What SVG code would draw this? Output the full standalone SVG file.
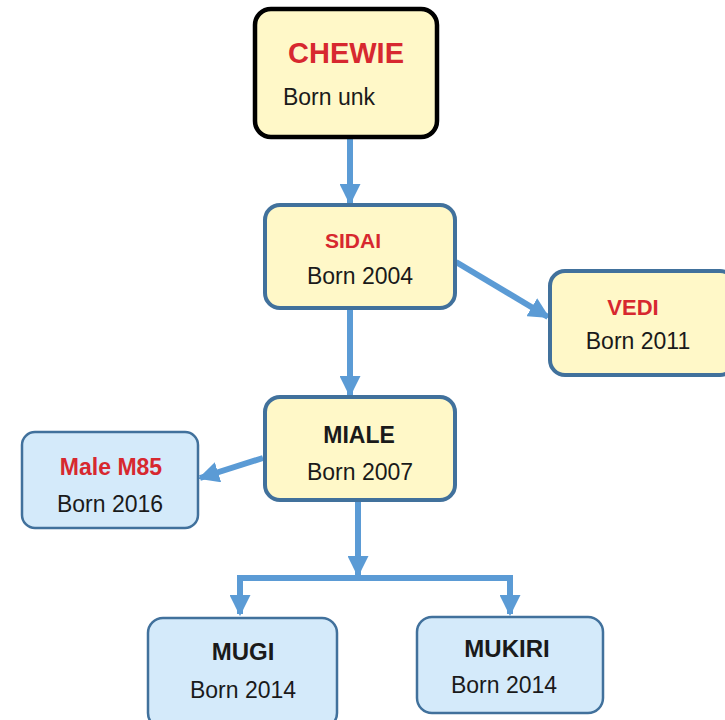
<svg xmlns="http://www.w3.org/2000/svg" width="725" height="720" viewBox="0 0 725 720">
  <style>
    .yel { fill: #fff8c8; stroke: #41719c; stroke-width: 4; }
    .blu { fill: #d4eafa; stroke: #41719c; stroke-width: 2.5; }
    .root { fill: #fff8c8; stroke: #000; stroke-width: 4.5; }
    .name { font-family: "Liberation Sans", Arial, sans-serif; font-weight: bold; text-anchor: middle; }
    .red { fill: #d7282f; }
    .blk { fill: #1a1a1a; }
    .born { font-family: "Liberation Sans", Arial, sans-serif; font-size: 23px; fill: #1a1a1a; text-anchor: middle; }
    .link { stroke: #5b9bd5; stroke-width: 6; fill: none; }
  </style>
  <defs>
    <marker id="head" viewBox="0 0 10 10" refX="9" refY="5" markerWidth="3.5" markerHeight="3.5" orient="auto" markerUnits="strokeWidth">
      <path d="M0,0 L10,5 L0,10 Z" fill="#5b9bd5"/>
    </marker>
  </defs>
  <rect width="725" height="720" fill="#ffffff"/>

  <g id="connectors">
    <line class="link" x1="350" y1="139" x2="350" y2="203" marker-end="url(#head)"/>
    <line class="link" x1="456" y1="262" x2="548" y2="317" marker-end="url(#head)"/>
    <line class="link" x1="350" y1="310" x2="350" y2="395" marker-end="url(#head)"/>
    <line class="link" x1="263" y1="458" x2="200" y2="478" marker-end="url(#head)"/>
    <line class="link" x1="358" y1="502" x2="358" y2="575" marker-end="url(#head)"/>
    <polyline class="link" points="240,581 240,578 510,578 510,581"/>
    <line class="link" x1="240" y1="578" x2="240" y2="614" marker-end="url(#head)"/>
    <line class="link" x1="510" y1="578" x2="510" y2="614" marker-end="url(#head)"/>
  </g>

  <g id="chewie">
    <rect class="root" x="255" y="9" width="182" height="128" rx="16"/>
    <text class="name red" x="346" y="63" font-size="29">CHEWIE</text>
    <text class="born" x="329" y="105" font-size="22">Born unk</text>
  </g>

  <g id="sidai">
    <rect class="yel" x="265" y="205" width="190" height="103" rx="15"/>
    <text class="name red" x="353" y="248" font-size="21">SIDAI</text>
    <text class="born" x="360" y="284">Born 2004</text>
  </g>

  <g id="vedi">
    <rect class="yel" x="550" y="271" width="185" height="104" rx="15"/>
    <text class="name red" x="633" y="315" font-size="22">VEDI</text>
    <text class="born" x="638" y="349">Born 2011</text>
  </g>

  <g id="miale">
    <rect class="yel" x="265" y="397" width="190" height="103" rx="15"/>
    <text class="name blk" x="359" y="443" font-size="23">MIALE</text>
    <text class="born" x="360" y="480">Born 2007</text>
  </g>

  <g id="male-m85">
    <rect class="blu" x="22" y="432" width="176" height="96" rx="13"/>
    <text class="name red" x="111" y="475" font-size="23">Male M85</text>
    <text class="born" x="110" y="512">Born 2016</text>
  </g>

  <g id="mugi">
    <rect class="blu" x="148" y="618" width="189" height="110" rx="15"/>
    <text class="name blk" x="243" y="660" font-size="24">MUGI</text>
    <text class="born" x="243" y="698">Born 2014</text>
  </g>

  <g id="mukiri">
    <rect class="blu" x="417" y="617" width="186" height="96" rx="15"/>
    <text class="name blk" x="507" y="657" font-size="24">MUKIRI</text>
    <text class="born" x="504" y="693">Born 2014</text>
  </g>
</svg>
